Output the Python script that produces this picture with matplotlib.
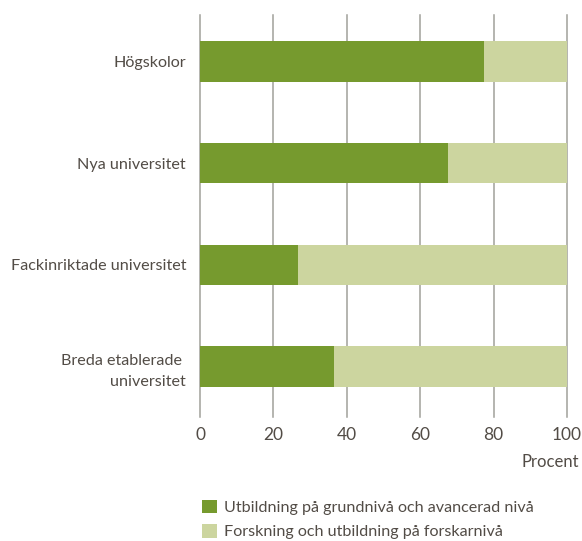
import matplotlib
matplotlib.use("Agg")
import matplotlib.pyplot as plt
from matplotlib.patches import Patch

categories = ["Högskolor", "Nya universitet", "Fackinriktade universitet", "Breda etablerade \nuniversitet"]
utbildning = [77.4, 67.7, 26.7, 36.6]
forskning = [100 - v for v in utbildning]
series_names = ["Utbildning på grundnivå och avancerad nivå", "Forskning och utbildning på forskarnivå"]
xticks = [0, 20, 40, 60, 80, 100]

dark = "#769a2e"
light = "#ccd59f"
textc = "#524c46"
gridc = "#a0a09a"

plt.rcParams['font.family'] = ['Lato', 'DejaVu Sans']

fig = plt.figure(figsize=(5.82, 5.41), dpi=100)
ax = fig.add_axes([200/582, 1 - 413/541, 367/582, 398/541])

y = list(range(len(categories)))
ax.barh(y, utbildning, height=0.4, color=dark, zorder=3)
ax.barh(y, forskning, left=utbildning, height=0.4, color=light, zorder=3)

ax.set_xlim(0, 100)
ax.set_ylim(3.457, -0.457)
ax.set_xticks(xticks)
ax.set_xticklabels([str(t) for t in xticks], fontsize=12.5, color=textc)
ax.set_yticks(y)
ax.set_yticklabels(categories, fontsize=11.6, color=textc, linespacing=1.6)
ax.tick_params(axis='y', length=0, pad=10)
ax.tick_params(axis='x', length=0, pad=10)
for t in xticks:
    ax.axvline(t, color=gridc, lw=1.1, zorder=1, ymin=-0.01, clip_on=False)
for s in ax.spines.values():
    s.set_visible(False)

fig.text(579/582, 1 - 462/541, "Procent", ha='right', va='center', fontsize=12, color=textc)

handles = [Patch(facecolor=dark, edgecolor='none'), Patch(facecolor=light, edgecolor='none')]
leg = fig.legend(handles, series_names, loc='upper left', bbox_to_anchor=(187/582, 1 - 485/541),
                 frameon=False, fontsize=11.6, handlelength=0.95, handleheight=0.95,
                 handletextpad=0.45, labelspacing=0.55)
for t in leg.get_texts():
    t.set_color(textc)

fig.savefig("out.png", dpi=100)
